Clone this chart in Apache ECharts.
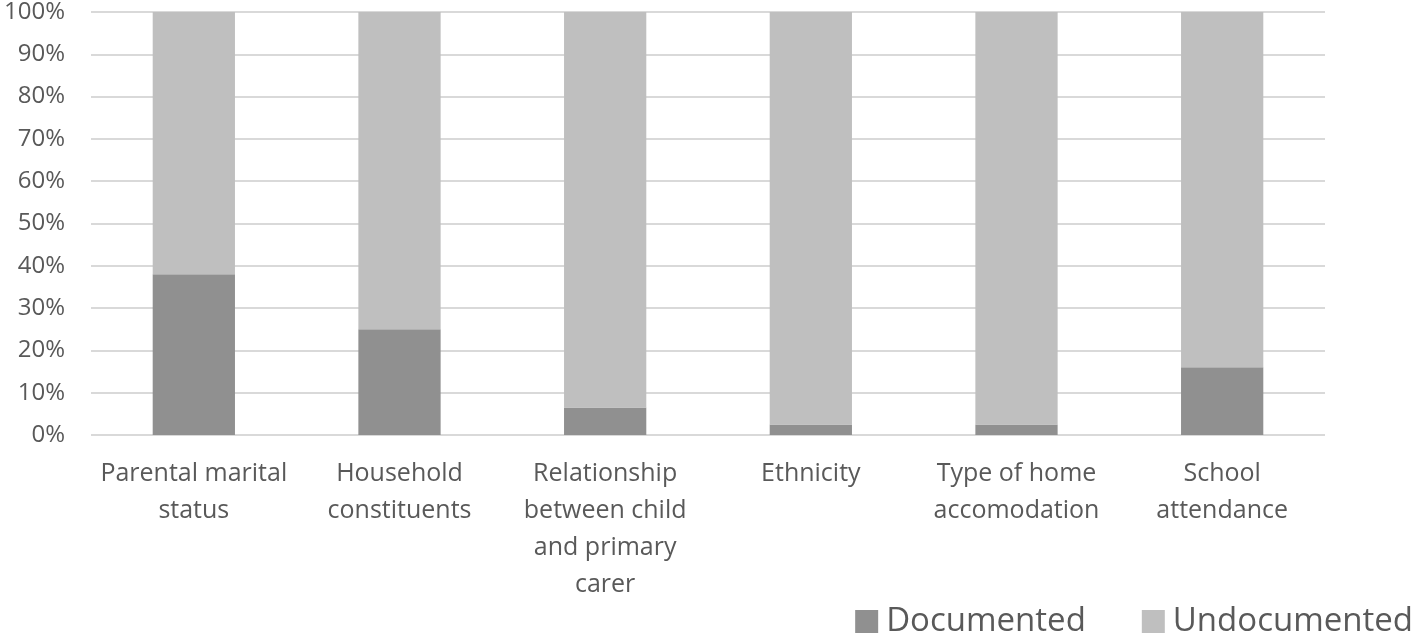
<!DOCTYPE html>
<html lang="en">
<head>
    <meta charset="UTF-8">
    <script type="text/javascript" src="https://cdn.jsdelivr.net/npm/echarts@6/dist/echarts.min.js"></script>
    <title>Documented vs Undocumented</title>
    <style>
        html, body { margin: 0; padding: 0; background: #fff; }
        #chart { width: 1418px; height: 634px; }
    </style>
</head>
<body>
<div id="chart"></div>
<script>
    var categories = ['Parental marital\nstatus', 'Household\nconstituents', 'Relationship\nbetween child\nand primary\ncarer', 'Ethnicity', 'Type of home\naccomodation', 'School\nattendance'];
    var documented = [38, 25, 6.5, 2.5, 2.5, 16];
    var undocumented = [62, 75, 93.5, 97.5, 97.5, 84];
    var yTicks = [0, 10, 20, 30, 40, 50, 60, 70, 80, 90, 100];

    var mCharts = echarts.init(document.getElementById('chart'));
    var font = 'Open Sans, Liberation Sans, sans-serif';

    var option = {
        animation: false,
        grid: { left: 91, right: 93, top: 11, bottom: 199 },
        legend: {
            right: 0,
            bottom: -9,
            itemWidth: 23,
            itemHeight: 23,
            itemGap: 56,
            icon: 'rect',
            textStyle: { fontSize: 33, color: '#595959', fontFamily: font, padding: [0, 0, 0, 3] },
            data: ['Documented', 'Undocumented']
        },
        xAxis: {
            type: 'category',
            data: categories,
            axisLine: { show: false },
            axisTick: { show: false },
            axisLabel: {
                fontSize: 25, color: '#595959', fontFamily: font,
                lineHeight: 37, margin: 20, interval: 0
            }
        },
        yAxis: {
            type: 'value',
            min: yTicks[0],
            max: yTicks[yTicks.length - 1],
            interval: 10,
            axisLine: { show: false },
            axisTick: { show: false },
            splitLine: { lineStyle: { color: '#d9d9d9', width: 2 } },
            axisLabel: {
                fontSize: 24, color: '#595959', fontFamily: font, margin: 26,
                formatter: function (v) { return v + '%'; }
            }
        },
        series: [
            {
                name: 'Documented', type: 'bar', stack: 'all', barWidth: '40%',
                itemStyle: { color: '#909090' },
                data: documented
            },
            {
                name: 'Undocumented', type: 'bar', stack: 'all', barWidth: '40%',
                itemStyle: { color: '#bfbfbf' },
                data: undocumented
            }
        ]
    };
    mCharts.setOption(option);
</script>
</body>
</html>
